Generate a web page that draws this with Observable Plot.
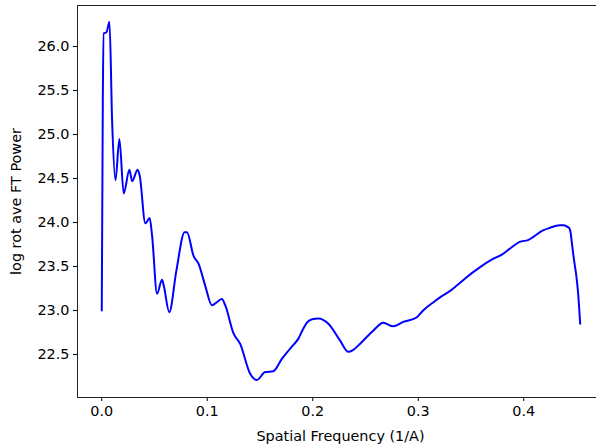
<!DOCTYPE html>
<html>
<head>
<meta charset="utf-8">
<script src="https://cdn.jsdelivr.net/npm/d3@7"></script>
<script src="https://cdn.jsdelivr.net/npm/@observablehq/plot@0.6"></script>
<style>
  html, body { margin: 0; padding: 0; background: #fff; overflow: hidden; }
  #chart svg { display: block; max-width: none !important; }
</style>
</head>
<body>
<div id="chart"></div>
<script>
const freq = [0, 0.001, 0.0019, 0.0044, 0.0073, 0.0098, 0.013, 0.0167, 0.0208, 0.0262, 0.0288, 0.034, 0.036, 0.0413, 0.0454, 0.0477, 0.0524, 0.0571, 0.0588, 0.064, 0.0707, 0.0785, 0.0808, 0.087, 0.0918, 0.0981, 0.1044, 0.1076, 0.1139, 0.117, 0.1249, 0.1312, 0.1407, 0.147, 0.1549, 0.1627, 0.1707, 0.176, 0.181, 0.1864, 0.1905, 0.1943, 0.1993, 0.2053, 0.2148, 0.2258, 0.2337, 0.2381, 0.2447, 0.2573, 0.2668, 0.2763, 0.2857, 0.2984, 0.3046, 0.315, 0.322, 0.3299, 0.3362, 0.345, 0.3583, 0.37, 0.38, 0.3898, 0.3961, 0.404, 0.4182, 0.425, 0.43, 0.434, 0.438, 0.4415, 0.4434, 0.4445, 0.4453, 0.4465, 0.4482, 0.45, 0.4513, 0.4535];
const power = [23.0, 25.39, 26.15, 26.16, 26.28, 25.16, 24.48, 24.95, 24.33, 24.6, 24.47, 24.6, 24.53, 23.99, 24.05, 23.85, 23.19, 23.35, 23.28, 22.98, 23.45, 23.89, 23.89, 23.62, 23.53, 23.28, 23.06, 23.08, 23.13, 23.06, 22.74, 22.62, 22.28, 22.21, 22.30, 22.31, 22.45, 22.53, 22.60, 22.68, 22.78, 22.86, 22.90, 22.91, 22.85, 22.66, 22.53, 22.55, 22.62, 22.77, 22.86, 22.82, 22.87, 22.92, 23.00, 23.10, 23.16, 23.22, 23.28, 23.37, 23.49, 23.58, 23.64, 23.73, 23.78, 23.80, 23.91, 23.94, 23.96, 23.97, 23.97, 23.95, 23.93, 23.88, 23.80, 23.68, 23.53, 23.38, 23.23, 22.85];
const xTicks = [0, 0.1, 0.2, 0.3, 0.4];
const yTicks = [22.5, 23.0, 23.5, 24.0, 24.5, 25.0, 25.5, 26.0];
const xLabel = "Spatial Frequency (1/A)";
const yLabel = "log rot ave FT Power";

const data = freq.map((f, i) => ({f, p: power[i]}));
const fmt = d3.format(".1f");

const chart = Plot.plot({
  width: 610,
  height: 446,
  marginLeft: 77,
  marginRight: 7,
  marginTop: 5,
  marginBottom: 49,
  style: {fontFamily: "DejaVu Sans", fontSize: "14.4px", color: "#000", background: "#fff", maxWidth: "none"},
  x: {domain: [-0.023, 0.4756]},
  y: {domain: [22.011, 26.466]},
  marks: [
    Plot.axisX({ticks: xTicks, tickFormat: fmt, tickSize: 4, tickPadding: 4, fontSize: 14.4,
      label: xLabel, labelAnchor: "center", labelArrow: "none", labelOffset: 43}),
    Plot.axisY({ticks: yTicks, tickFormat: fmt, tickSize: 4, tickPadding: 4, fontSize: 14.4,
      label: yLabel, labelAnchor: "center", labelArrow: "none", labelOffset: 67}),
    Plot.line(data, {x: "f", y: "p", stroke: "#0000ff", strokeWidth: 2, strokeLinejoin: "round", curve: "monotone-x"}),
    Plot.frame({stroke: "#222", strokeWidth: 1})
  ]
});
document.getElementById("chart").appendChild(chart);
</script>
</body>
</html>
